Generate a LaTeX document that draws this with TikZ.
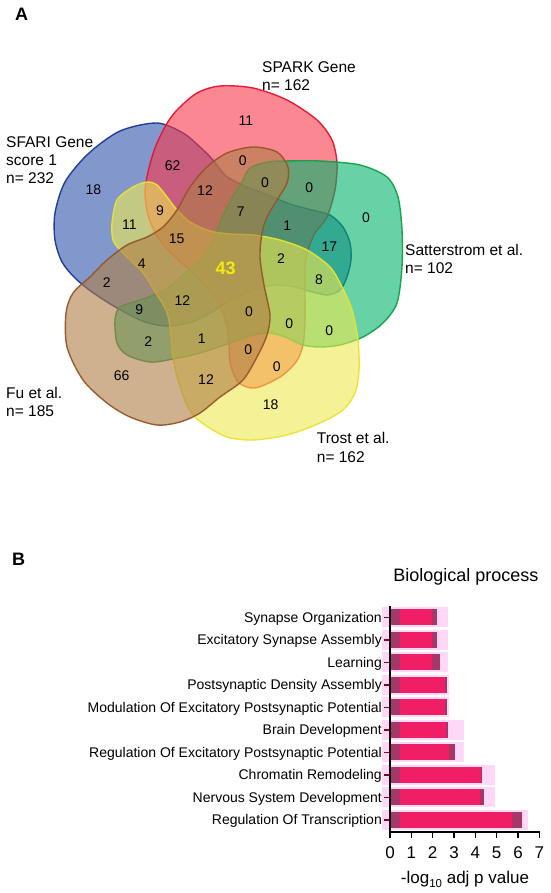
\documentclass[tikz,border=0pt]{standalone}
\usepackage{fontspec}
\setmainfont{Liberation Sans}
\definecolor{cblue}{RGB}{47,83,172}
\definecolor{cred}{RGB}{247,55,72}
\definecolor{cgreen}{RGB}{0,180,105}
\definecolor{cyellow}{RGB}{238,232,80}
\definecolor{cbrown}{RGB}{175,125,70}
\definecolor{lblue}{RGB}{25,55,150}
\definecolor{lred}{RGB}{230,20,45}
\definecolor{lgreen}{RGB}{20,160,70}
\definecolor{lyellow}{RGB}{232,228,50}
\definecolor{lbrown}{RGB}{150,85,40}
\definecolor{barpink}{RGB}{240,30,100}
\definecolor{bardark}{RGB}{165,55,105}
\definecolor{barhalo}{RGB}{255,216,248}
\definecolor{tickred}{RGB}{120,10,40}
\definecolor{cyel43}{RGB}{245,235,10}
\begin{document}
\begin{tikzpicture}[x=1pt,y=-1pt,
  setlab/.style={anchor=base west, inner sep=0pt, font=\fontsize{15.5}{18}\selectfont},
  num/.style={inner sep=0pt, font=\fontsize{14}{16}\selectfont},
  venn/.style={line width=1.4pt, fill opacity=0.6, draw opacity=0.95},
  panel/.style={anchor=base west, inner sep=0pt, font=\fontsize{18}{20}\selectfont\bfseries},
  catlab/.style={anchor=base east, inner sep=0pt, font=\fontsize{14}{16}\selectfont},
  ticklab/.style={anchor=base, inner sep=0pt, font=\fontsize{17}{19}\selectfont}
]
\useasboundingbox (0,0) rectangle (550,893);

% ---------------- Panel A ----------------
\node[panel] (pA) at (15,20.7) {A};

% Blue: SFARI
\draw[venn, fill=cblue, draw=lblue] plot[smooth cycle] coordinates {
 (157,123) (183,133) (200,147) (213,160) (226,176) (245,186) (268,195) (290,204)
 (312,210) (330,215) (343,227) (350,243) (351,260) (347,277) (340,290) (328,295)
 (312,292) (295,287) (275,285) (255,290) (235,298) (212,312) (192,322) (168,326)
 (145,322) (117,308) (92,292) (75,278) (62,262) (55,240) (55,213) (65,182)
 (88,154) (120,131)};
% Red: SPARK
\draw[venn, fill=cred, draw=lred] plot[smooth cycle] coordinates {
 (145,192) (148,172) (155,148) (166,125) (177,110) (197,93) (220,86) (253,88)
 (287,100) (317,120) (332,140) (337,163) (335,190) (327,217) (315,233) (308,250)
 (305,267) (305,295) (305,320) (303,345) (296,362) (280,377) (255,388) (238,382)
 (230,362) (229,342) (226,322) (218,302) (205,285) (190,270) (172,254) (157,236)
 (148,215)};
% Green: Satterstrom
\draw[venn, fill=cgreen, draw=lgreen] plot[smooth cycle] coordinates {
 (250,168) (268,162) (285,161) (320,161) (360,165) (387,177) (398,197) (402,230)
 (402,267) (397,303) (383,323) (363,337) (340,345) (320,347) (303,345) (285,337)
 (270,333) (253,335) (230,343) (200,353) (173,359) (150,362) (127,355) (117,343)
 (115,320) (120,307) (140,300) (165,290) (185,273) (202,258) (212,242) (222,218)
 (232,198) (242,182)};
% Yellow: Trost
\draw[venn, fill=cyellow, draw=lyellow] plot[smooth cycle] coordinates {
 (133,187) (147,182) (157,185) (167,197) (177,210) (190,222) (210,231) (230,234)
 (253,235) (280,240) (307,250) (330,267) (342,287) (352,310) (358,340) (359,370)
 (355,393) (343,410) (320,423) (287,435) (253,440) (227,437) (205,425) (193,415)
 (186,403) (178,380) (173,357) (170,327) (166,310) (154,290) (143,273) (130,260)
 (120,250) (113,240) (112,223) (117,200)};
% Brown: Fu
\draw[venn, fill=cbrown, draw=lbrown] plot[smooth cycle] coordinates {
 (227,153) (253,147) (277,152) (288,167) (287,183) (277,200) (267,217) (262,233)
 (260,257) (264,285) (270,315) (267,335) (258,355) (243,380) (220,397) (200,413)
 (180,422) (157,425) (130,417) (107,403) (83,380) (67,347) (66,313) (73,293)
 (90,277) (107,260) (127,245) (147,237) (163,227) (177,210) (190,187) (207,167)};

% set labels
\node[setlab] (spark1) at (262,72.2) {SPARK Gene};
\node[setlab] (spark2) at (262,90.5) {n= 162};
\node[setlab] (sfari1) at (6,147.3) {SFARI Gene};
\node[setlab] (sfari2) at (6,165.7) {score 1};
\node[setlab] (sfari3) at (6,184) {n= 232};
\node[setlab] (satt1) at (405,255.4) {Satterstrom et al.};
\node[setlab] (satt2) at (405,273.7) {n= 102};
\node[setlab] (fu1) at (6,398) {Fu et al.};
\node[setlab] (fu2) at (6,416.3) {n= 185};
\node[setlab] (trost1) at (316.7,443.7) {Trost et al.};
\node[setlab] (trost2) at (316.7,462) {n= 162};

% region counts
\node[num] (r1) at (93.3,190) {18};
\node[num] (r2) at (172.7,166) {62};
\node[num] (r3) at (205,191) {12};
\node[num] (r4) at (160,211) {9};
\node[num] (r5) at (129.3,225) {11};
\node[num] (r6) at (176.7,238.3) {15};
\node[num] (r7) at (141.7,264) {4};
\node[num] (r8) at (246,121) {11};
\node[num] (r9) at (242.7,160.7) {0};
\node[num] (r10) at (265,182.3) {0};
\node[num] (r11) at (309.3,187.3) {0};
\node[num] (r12) at (240.7,211.7) {7};
\node[num] (r13) at (287.3,225.7) {1};
\node[num] (r14) at (366,217.3) {0};
\node[num] (r15) at (329.3,246.7) {17};
\node[num] (r16) at (281,259) {2};
\node[num] (r17) at (106.7,282.7) {2};
\node[num] (r18) at (182.3,300.7) {12};
\node[num] (r19) at (139.3,309.3) {9};
\node[num] (r20) at (148.3,341.7) {2};
\node[num] (r21) at (201.7,339) {1};
\node[num] (r22) at (121.7,376) {66};
\node[num] (r23) at (206,379.3) {12};
\node[num] (r24) at (319,280) {8};
\node[num] (r25) at (249,311.7) {0};
\node[num] (r26) at (289.3,323.3) {0};
\node[num] (r27) at (329.3,331) {0};
\node[num] (r28) at (248.3,350) {0};
\node[num] (r29) at (276.7,366.7) {0};
\node[num] (r30) at (270.7,405) {18};
\node[inner sep=0pt, font=\fontsize{18}{20}\selectfont\bfseries, text=cyel43] (r31) at (225.7,268.3) {43};

% ---------------- Panel B ----------------
\node[panel] (pB) at (12,565) {B};
\node[anchor=base, inner sep=0pt, font=\fontsize{18}{20}\selectfont] (title) at (465.8,581.7) {Biological process};

% bars: index / label / end / dark-start / halo-end
\foreach \i/\lab/\e/\d/\h in {
 1/Synapse Organization/2.19/1.98/2.70,
 2/Excitatory Synapse Assembly/2.20/1.98/2.70,
 3/Learning/2.34/1.98/2.70,
 4/Postsynaptic Density Assembly/2.66/2.60/2.75,
 5/Modulation Of Excitatory Postsynaptic Potential/2.66/2.60/2.75,
 6/Brain Development/2.70/2.62/3.45,
 7/Regulation Of Excitatory Postsynaptic Potential/3.05/2.75/3.48,
 8/Chromatin Remodeling/4.33/4.25/4.90,
 9/Nervous System Development/4.42/4.22/4.94,
 10/Regulation Of Transcription/6.20/5.73/6.45}{
  \pgfmathsetmacro{\yy}{617.3+22.52*(\i-1)}
  \fill[barhalo] (382,\yy-10) rectangle (390+21.33*\h,\yy+10);
  \fill[barpink] (390,\yy-8) rectangle (390+21.33*\e,\yy+8);
  \fill[bardark] (390,\yy-8) rectangle (400,\yy+8);
  \fill[bardark] (390+21.33*\d,\yy-8) rectangle (390+21.33*\e,\yy+8);
  \draw[tickred, line width=1.6pt] (384,\yy) -- (390,\yy);
  \node[catlab] (cat\i) at (382,\yy+5) {\lab};
}

% axes
\coordinate (o) at (390,832);
\coordinate (ytop) at (390,606);
\coordinate (xend) at (540,832);
\draw[line width=1.8pt, black] (ytop) -- (o) -- (xend);
\foreach \k in {0,...,7}{
  \draw[line width=1.6pt, black] (390+21.33*\k,832) -- (390+21.33*\k,837.5);
  \node[ticklab] (t\k) at (390+21.33*\k,858) {\k};
}
\node[anchor=base, inner sep=0pt, font=\fontsize{17}{19}\selectfont] (xlab) at (465,883) {-log\raisebox{-4pt}{\fontsize{11.5}{12}\selectfont 10} adj p value};
\end{tikzpicture}
\end{document}
